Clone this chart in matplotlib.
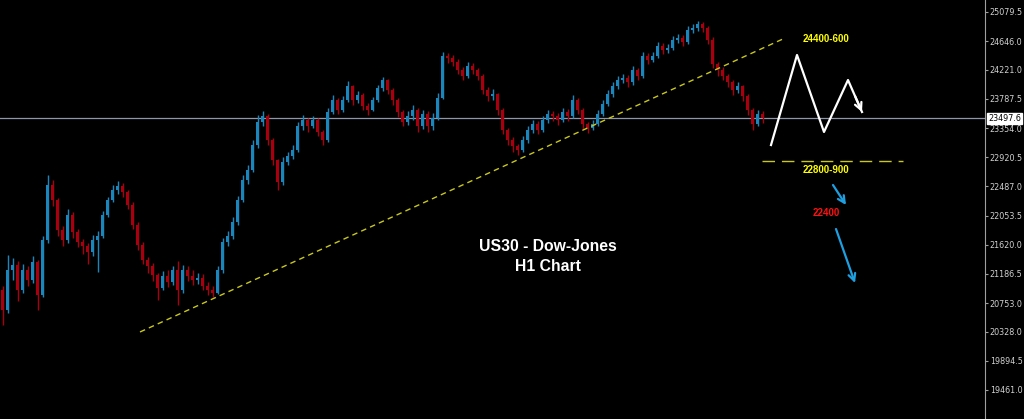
import matplotlib
matplotlib.use("Agg")
import matplotlib.pyplot as plt

# US30 H1 candles (open of each bar = previous close)
first_open = 20950
closes = [20650, 21244, 21318, 20947, 21244, 21095, 21363, 20872, 21690, 22507,
          22284, 21838, 21690, 22061, 21809, 21660, 21601, 21511, 21690, 21749,
          22061, 22284, 22433, 22492, 22403, 22210, 21913, 21615, 21392, 21303,
          21170, 20976, 21155, 21066, 21244, 20947, 21244, 21155, 21095, 21125,
          21006, 20947, 20902, 21244, 21660, 21749, 21957, 22284, 22581, 22730,
          23101, 23443, 23532, 23176, 22878, 22552, 22849, 22938, 23027, 23384,
          23473, 23384, 23473, 23295, 23176, 23592, 23770, 23621, 23770, 23978,
          23770, 23844, 23681, 23621, 23770, 23948, 24067, 23919, 23770, 23592,
          23443, 23532, 23621, 23384, 23562, 23384, 23503, 23800, 24424, 24394,
          24335, 24216, 24127, 24275, 24216, 24127, 23919, 23830, 23859, 23621,
          23324, 23176, 23087, 23027, 23176, 23324, 23413, 23324, 23473, 23562,
          23532, 23473, 23592, 23532, 23770, 23621, 23413, 23354, 23413, 23562,
          23711, 23859, 23978, 24067, 24097, 24038, 24216, 24127, 24424, 24364,
          24424, 24573, 24513, 24543, 24662, 24691, 24632, 24810, 24840, 24899,
          24840, 24662, 24305, 24216, 24127, 24038, 23919, 23978, 23830, 23621,
          23413, 23562, 23503]
highs = [21000, 21470, 21420, 21380, 21330, 21300, 21450, 21400, 21750, 22650,
         22580, 22320, 21900, 22150, 22100, 21850, 21700, 21650, 21760, 21820,
         22120, 22330, 22500, 22560, 22540, 22440, 22250, 21950, 21660, 21430,
         21350, 21200, 21230, 21250, 21300, 21380, 21320, 21300, 21250, 21200,
         21180, 21060, 21000, 21300, 21720, 21830, 22030, 22350, 22650, 22800,
         23180, 23550, 23600, 23560, 23200, 22900, 22920, 23000, 23100, 23450,
         23540, 23500, 23530, 23500, 23320, 23650, 23840, 23800, 23830, 24050,
         24000, 23900, 23870, 23720, 23820, 24000, 24110, 24080, 23950, 23800,
         23620, 23600, 23700, 23650, 23620, 23600, 23580, 23880, 24480, 24470,
         24440, 24380, 24260, 24330, 24320, 24250, 24150, 23960, 23930, 23880,
         23650, 23360, 23220, 23120, 23230, 23380, 23470, 23460, 23530, 23620,
         23610, 23570, 23650, 23630, 23850, 23800, 23650, 23450, 23480, 23620,
         23770, 23920, 24040, 24130, 24160, 24140, 24270, 24250, 24490, 24470,
         24480, 24630, 24610, 24600, 24720, 24750, 24730, 24870, 24900, 24950,
         24930, 24870, 24700, 24340, 24260, 24160, 24070, 24040, 24000, 23860,
         23650, 23620, 23600]
lows = [20430, 20600, 21100, 20780, 20900, 21000, 21050, 20650, 20850, 21650,
        22200, 21750, 21600, 21650, 21720, 21580, 21480, 21330, 21450, 21220,
        21720, 22030, 22250, 22380, 22330, 22150, 21850, 21540, 21330, 21200,
        21080, 20800, 20950, 20990, 21020, 20720, 20900, 21080, 21020, 21040,
        20940, 20870, 20840, 20880, 21200, 21600, 21700, 21920, 22250, 22520,
        22700, 23050, 23380, 23100, 22800, 22430, 22500, 22800, 22900, 23000,
        23330, 23300, 23350, 23230, 23100, 23150, 23560, 23560, 23590, 23740,
        23700, 23720, 23620, 23540, 23600, 23740, 23900, 23860, 23700, 23520,
        23380, 23400, 23480, 23300, 23340, 23300, 23330, 23480, 23780, 24320,
        24270, 24150, 24060, 24100, 24150, 24060, 23860, 23760, 23770, 23550,
        23260, 23100, 23000, 22950, 22990, 23130, 23280, 23260, 23290, 23430,
        23460, 23400, 23440, 23460, 23500, 23560, 23340, 23280, 23320, 23380,
        23530, 23680, 23820, 23940, 24020, 23970, 24000, 24060, 24100, 24300,
        24330, 24390, 24450, 24470, 24510, 24620, 24570, 24600, 24770, 24800,
        24780, 24600, 24240, 24130, 24060, 23960, 23850, 23880, 23760, 23550,
        23320, 23380, 23430]

last_price = 23497.6
price_ticks = [25079.5, 24646.0, 24221.0, 23787.5, 23354.0, 22920.5, 22487.0,
               22053.5, 21620.0, 21186.5, 20753.0, 20328.0, 19894.5, 19461.0]

# analyst drawings (bar index, price)
trend_x = [27.5, 156.5]
trend_y = [20323, 24691]
support_x = [151.9, 180.1]
support_level = 22864
zigzag_x = [153.7, 158.9, 164.3, 169.1, 171.9]
zigzag_y = [23101, 24439, 23295, 24067, 23592]
drop1 = [(166.1, 22507), (168.7, 22210)]
drop2 = [(166.7, 21853), (170.5, 21051)]

bull = '#1b86bb'
bear = '#a8000e'
txt_font = ['Liberation Sans', 'DejaVu Sans']

fig = plt.figure(figsize=(10.24, 4.19), dpi=100, facecolor='black')
ax = fig.add_axes([0, 0, 985 / 1024, 1])
ax.set_facecolor('black')

opens = [first_open] + closes[:-1]
for i, (o, c, h, l) in enumerate(zip(opens, closes, highs, lows)):
    col = bull if c >= o else bear
    ax.vlines(i, l, h, color=col, linewidth=1.0, zorder=2)
    ax.bar(i, max(abs(c - o), 8), bottom=min(o, c), width=0.55, color=col,
           linewidth=0, zorder=3)

# current price line
ax.axhline(last_price, color='#8f96a8', linewidth=0.9, zorder=1)

# trend line and support
ax.plot(trend_x, trend_y, color='#c8c81e', linewidth=1.0, dashes=(4, 3), zorder=4)
ax.plot(support_x, [support_level, support_level], color='#c8c81e',
        linewidth=1.0, dashes=(9, 5), zorder=4)

# expected path
ax.plot(zigzag_x, zigzag_y, color='white', linewidth=1.6, zorder=5)
mid = ((zigzag_x[-2] + zigzag_x[-1]) / 2, (zigzag_y[-2] + zigzag_y[-1]) / 2)
ax.annotate('', xy=(zigzag_x[-1], zigzag_y[-1]), xytext=mid,
            arrowprops=dict(arrowstyle='->,head_length=0.5,head_width=0.25',
                            color='white', lw=1.6, shrinkA=0, shrinkB=0), zorder=5)
for a, b in (drop1, drop2):
    ax.annotate('', xy=b, xytext=a,
                arrowprops=dict(arrowstyle='->,head_length=0.5,head_width=0.25',
                                color='#1e9fe0', lw=1.6, shrinkA=0, shrinkB=0), zorder=5)

ax.text(164.7, 24680, '24400-600', color='#ffff00', fontsize=7,
        fontweight='bold', ha='center', va='center', family=txt_font)
ax.text(164.7, 22735, '22800-900', color='#ffff00', fontsize=7,
        fontweight='bold', ha='center', va='center', family=txt_font)
ax.text(164.7, 22090, '22400', color='#ff1010', fontsize=7,
        fontweight='bold', ha='center', va='center', family=txt_font)
ax.text(109.1, 21600, 'US30 - Dow-Jones', color='white', fontsize=11.3,
        fontweight='bold', ha='center', va='center', family=txt_font)
ax.text(109.1, 21290, 'H1 Chart', color='white', fontsize=11.3,
        fontweight='bold', ha='center', va='center', family=txt_font)

ax.set_xlim(-0.5, 196.5)
ax.set_ylim(19030, 25256)
ax.set_xticks([])
ax.yaxis.tick_right()
ax.set_yticks(price_ticks)
ax.set_yticklabels([f'{v:.1f}' for v in price_ticks])
ax.tick_params(axis='y', colors='#a0a0a0', labelcolor='#d0d0d0', labelsize=5.8,
               length=2, width=0.8, pad=1.5)
for s in ('top', 'left', 'bottom'):
    ax.spines[s].set_visible(False)
ax.spines['right'].set_color('#a0a0a0')
ax.spines['right'].set_linewidth(0.8)

ax.text(1.003, last_price, f'{last_price:.1f}', transform=ax.get_yaxis_transform(),
        color='black', fontsize=5.8, ha='left', va='center', clip_on=False,
        bbox=dict(boxstyle='square,pad=0.15', facecolor='white', edgecolor='white'))

fig.savefig('out.png', dpi=100, facecolor='black')
